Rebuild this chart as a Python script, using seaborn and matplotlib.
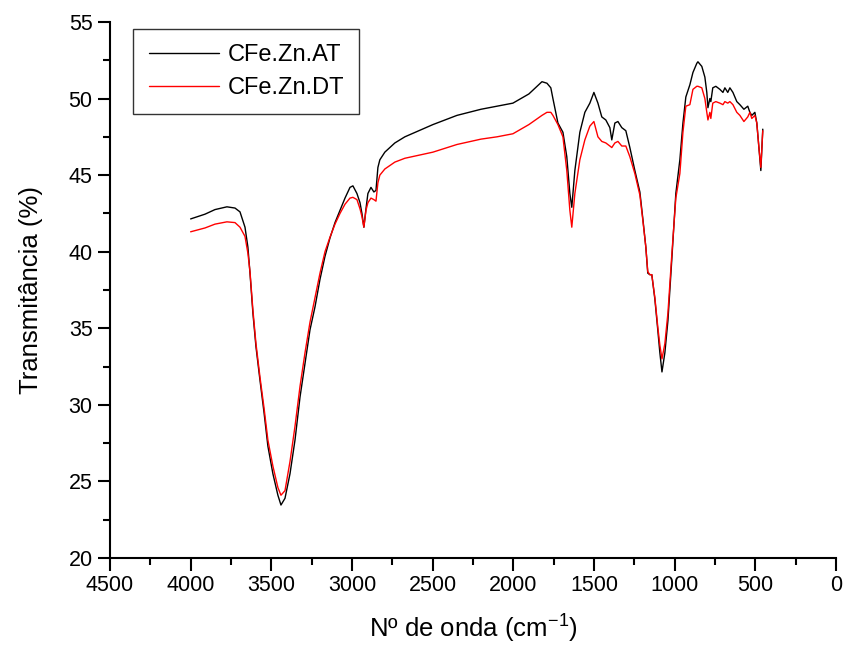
import numpy as np
import pandas as pd
import matplotlib
matplotlib.use("Agg")
import matplotlib.pyplot as plt
import seaborn as sns

wavenumber = [4000, 3911, 3849, 3775, 3725, 3694, 3663, 3645, 3632, 3614, 3595, 3570, 3545, 3521,
              3490, 3459, 3440, 3415, 3384, 3353, 3322, 3291, 3260, 3229, 3198, 3167, 3136, 3105,
              3074, 3043, 3012, 2994, 2969, 2950, 2938, 2926, 2913, 2901, 2882, 2864, 2851, 2839,
              2827, 2796, 2734, 2672, 2498, 2349, 2200, 2101, 2002, 1903, 1822, 1791, 1767, 1754,
              1723, 1692, 1668, 1649, 1637, 1618, 1587, 1556, 1525, 1500, 1475, 1451, 1426, 1401,
              1389, 1370, 1351, 1327, 1302, 1277, 1246, 1215, 1196, 1178, 1166, 1153, 1141, 1122,
              1104, 1091, 1078, 1060, 1041, 1017, 992, 967, 948, 930, 905, 886, 862, 855, 831, 812,
              800, 793, 781, 775, 763, 744, 719, 700, 688, 670, 657, 638, 614, 595, 570, 546, 533,
              521, 502, 490, 477, 465, 453]

at_values = [42.14, 42.45, 42.75, 42.93, 42.85, 42.6, 41.6, 40.3, 38.6, 36.0, 33.8, 31.6, 29.5, 27.3,
             25.5, 24.1, 23.46, 23.9, 25.5, 27.7, 30.5, 32.7, 34.9, 36.4, 38.2, 39.7, 40.9, 41.9,
             42.7, 43.5, 44.2, 44.3, 43.8, 43.2, 42.5, 41.6, 42.8, 43.8, 44.2, 43.9, 44.0, 45.5,
             46.0, 46.5, 47.1, 47.5, 48.3, 48.9, 49.3, 49.5, 49.7, 50.3, 51.1, 51.0, 50.7, 50.0,
             48.4, 47.8, 46.2, 43.8, 42.9, 45.3, 47.8, 49.1, 49.7, 50.4, 49.7, 48.8, 48.6, 48.1,
             47.3, 48.4, 48.5, 48.1, 47.9, 46.8, 45.3, 43.9, 42.1, 40.3, 38.6, 38.5, 38.5, 36.9,
             34.9, 33.4, 32.15, 33.4, 35.5, 39.5, 43.8, 46.0, 48.4, 50.1, 50.9, 51.7, 52.3, 52.4, 52.1, 51.4,
             50.4, 49.4, 50.0, 49.8, 50.7, 50.8, 50.6, 50.4, 50.7, 50.4, 50.7, 50.4, 49.8, 49.6, 49.3, 49.5, 49.1,
             48.9, 49.1, 48.4, 46.8, 45.3, 48.0]

dt_values = [41.3, 41.55, 41.8, 41.95, 41.9, 41.6, 41.0, 39.9, 38.7, 36.2, 34.0, 31.8, 29.8, 27.7,
             26.0, 24.6, 24.1, 24.4, 26.3, 28.6, 31.2, 33.4, 35.4, 37.0, 38.6, 40.0, 40.95, 41.8,
             42.5, 43.1, 43.5, 43.55, 43.4, 42.8, 42.3, 41.6, 42.7, 43.2, 43.5, 43.4, 43.3, 44.5,
             45.0, 45.4, 45.85, 46.1, 46.5, 47.0, 47.35, 47.5, 47.7, 48.3, 48.9, 49.1, 49.1, 48.9,
             48.3, 47.5, 45.3, 42.7, 41.6, 43.8, 46.0, 47.3, 48.2, 48.5, 47.5, 47.2, 47.1, 46.9,
             46.8, 47.1, 47.2, 46.9, 46.9, 46.2, 45.1, 43.7, 42.0, 40.3, 38.7, 38.5, 38.5, 37.0,
             35.1, 33.9, 33.0, 34.0, 36.0, 39.8, 43.5, 45.1, 47.8, 49.5, 49.6, 50.6, 50.8, 50.8, 50.7, 50.0,
             49.1, 48.6, 49.1, 48.7, 49.7, 49.8, 49.7, 49.6, 49.8, 49.7, 49.8, 49.6, 49.1, 48.9, 48.5, 48.8, 49.1,
             48.7, 48.9, 48.4, 46.8, 45.5, 47.9]

series_names = ["CFe.Zn.AT", "CFe.Zn.DT"]
series_colors = ["#000000", "#ff0000"]
x_ticks = [4500, 4000, 3500, 3000, 2500, 2000, 1500, 1000, 500, 0]
y_ticks = [20, 25, 30, 35, 40, 45, 50, 55]

df = pd.concat([
    pd.DataFrame({"wn": wavenumber, "T": at_values, "Amostra": series_names[0]}),
    pd.DataFrame({"wn": wavenumber, "T": dt_values, "Amostra": series_names[1]}),
], ignore_index=True)

sns.set_style("ticks")
plt.rcParams["font.family"] = ["Liberation Sans", "DejaVu Sans"]
plt.rcParams["mathtext.fontset"] = "custom"
plt.rcParams["mathtext.rm"] = "Liberation Sans"
plt.rcParams["mathtext.it"] = "Liberation Sans"
plt.rcParams["text.color"] = "black"
plt.rcParams["axes.labelcolor"] = "black"

fig = plt.figure(figsize=(8.46, 6.46), dpi=100)
ax = fig.add_axes([0.130, 0.1362, 0.858, 0.8298])

sns.lineplot(data=df, x="wn", y="T", hue="Amostra", palette=dict(zip(series_names, series_colors)),
             sort=False, estimator=None, linewidth=1.0, ax=ax)

ax.set_xlim(4500, 0)
ax.set_ylim(20, 55)
ax.set_xticks(x_ticks)
ax.set_yticks(y_ticks)
ax.set_xticks(np.arange(4250, 0, -500), minor=True)
ax.set_yticks(np.arange(22.5, 55, 5), minor=True)
ax.tick_params(axis="both", which="major", direction="out", length=9, width=1.5,
               labelsize=15.5, colors="black", labelcolor="black")
ax.tick_params(axis="both", which="minor", direction="out", length=5, width=1.5, colors="black")
for s in ["left", "bottom"]:
    ax.spines[s].set_linewidth(1.5)
    ax.spines[s].set_color("black")
sns.despine(ax=ax)

ax.set_xlabel(r"Nº de onda (cm$^{-1}$)", fontsize=18.5, labelpad=12, color="black")
ax.set_ylabel("Transmitância (%)", fontsize=18.5, labelpad=18, color="black")

leg = ax.legend(loc="upper left", bbox_to_anchor=(0.032, 0.987), borderaxespad=0, fontsize=17,
                frameon=True, fancybox=False, edgecolor="black", handlelength=3.0, handletextpad=0.35,
                borderpad=0.65, labelspacing=0.45, title=None)
leg.get_frame().set_linewidth(1.0)
for line in leg.get_lines():
    line.set_linewidth(1.0)
for t in leg.get_texts():
    t.set_color("black")

fig.savefig("out.png", dpi=100)
